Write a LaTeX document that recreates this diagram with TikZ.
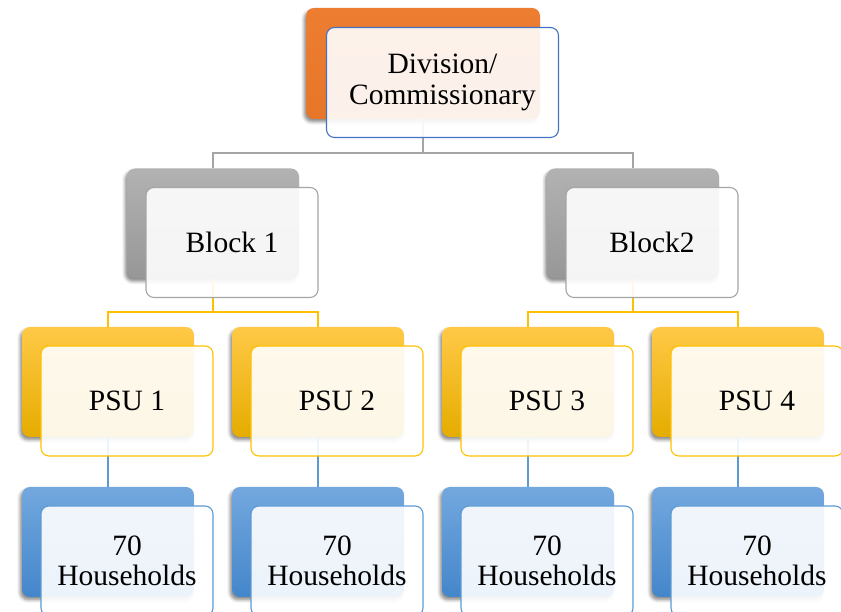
\documentclass[tikz,border=0pt]{standalone}
\usepackage{fontspec}
\setmainfont{Liberation Serif}
\usetikzlibrary{shadows.blur}

% palette
\definecolor{accOrange}{HTML}{ED7D31}
\definecolor{accOrangeDk}{HTML}{E77628}
\definecolor{accBlueDk}{HTML}{4472C4}
\definecolor{accGrayTop}{HTML}{B2B2B2}
\definecolor{accGrayBot}{HTML}{979797}
\definecolor{accGray}{HTML}{A5A5A5}
\definecolor{accGold}{HTML}{FFC000}
\definecolor{accGoldTop}{HTML}{FFC947}
\definecolor{accGoldBot}{HTML}{E5AC00}
\definecolor{accBlue}{HTML}{5B9BD5}
\definecolor{accBlueTop}{HTML}{73A8DE}
\definecolor{accBlueBot}{HTML}{4486CB}

\tikzset{
  backbox/.style={rounded corners=8pt, minimum width=172pt, minimum height=110pt,
    inner sep=0pt, draw=none,
    blur shadow={shadow xshift=-2pt, shadow yshift=-3pt, shadow opacity=45,
      shadow blur radius=3pt}},
  frontbox/.style={rounded corners=8pt, minimum width=172pt, minimum height=110pt,
    inner sep=0pt, fill=white, fill opacity=0.9, text opacity=1, line width=1.1pt,
    align=center, font=\fontsize{29.5}{30.5}\selectfont},
  orangeback/.style={backbox, top color=accOrange, bottom color=accOrangeDk,
    minimum width=234pt, minimum height=111pt},
  grayback/.style={backbox, top color=accGrayTop, bottom color=accGrayBot},
  goldback/.style={backbox, top color=accGoldTop, middle color=accGold, bottom color=accGoldBot},
  blueback/.style={backbox, top color=accBlueTop, bottom color=accBlueBot},
  topfront/.style={frontbox, draw=accBlueDk, minimum width=232pt, minimum height=110pt},
  grayfront/.style={frontbox, draw=accGray},
  goldfront/.style={frontbox, draw=accGold},
  bluefront/.style={frontbox, draw=accBlue},
  grayline/.style={draw=accGray, line width=2.2pt},
  goldline/.style={draw=accGold, line width=2.2pt},
  blueline/.style={draw=accBlue, line width=2.2pt},
}

\begin{document}
\begin{tikzpicture}[x=1pt, y=1pt]
  \useasboundingbox (0,0) rectangle (841,612);
  \clip (0,0) rectangle (841,612);

  % back plates
  \node[orangeback] (top) at (423,548.5) {};
  \node[grayback] (b1) at (213,388.5) {};
  \node[grayback] (b2) at (633,388.5) {};
  \node[goldback] (p1) at (108,230) {};
  \node[goldback] (p2) at (318,230) {};
  \node[goldback] (p3) at (528,230) {};
  \node[goldback] (p4) at (738,230) {};
  \node[blueback] (h1) at (108,70) {};
  \node[blueback] (h2) at (318,70) {};
  \node[blueback] (h3) at (528,70) {};
  \node[blueback] (h4) at (738,70) {};

  % bus levels for the elbow connectors
  \coordinate (busA) at (0,459);
  \coordinate (busB) at (0,300);

  % connectors
  \draw[grayline] (top.south) -- (top.south |- busA) -| (b1.north);
  \draw[grayline] (top.south |- busA) -| (b2.north);
  \draw[goldline] (b1.south) -- (b1.south |- busB) -| (p1.north);
  \draw[goldline] (b1.south |- busB) -| (p2.north);
  \draw[goldline] (b2.south) -- (b2.south |- busB) -| (p3.north);
  \draw[goldline] (b2.south |- busB) -| (p4.north);
  \draw[blueline] (p1.south) -- (h1.north);
  \draw[blueline] (p2.south) -- (h2.north);
  \draw[blueline] (p3.south) -- (h3.north);
  \draw[blueline] (p4.south) -- (h4.north);

  % labelled front cards
  \node[topfront] (topF) at (442.5,529.5) {Division/\\Commissionary};
  \node[grayfront] (b1F) at (232,369.5) {Block 1};
  \node[grayfront] (b2F) at (652,369.5) {Block2};
  \node[goldfront] (p1F) at (127,211) {PSU 1};
  \node[goldfront] (p2F) at (337,211) {PSU 2};
  \node[goldfront] (p3F) at (547,211) {PSU 3};
  \node[goldfront] (p4F) at (757,211) {PSU 4};
  \node[bluefront] (h1F) at (127,51) {70\\Households};
  \node[bluefront] (h2F) at (337,51) {70\\Households};
  \node[bluefront] (h3F) at (547,51) {70\\Households};
  \node[bluefront] (h4F) at (757,51) {70\\Households};
\end{tikzpicture}
\end{document}
